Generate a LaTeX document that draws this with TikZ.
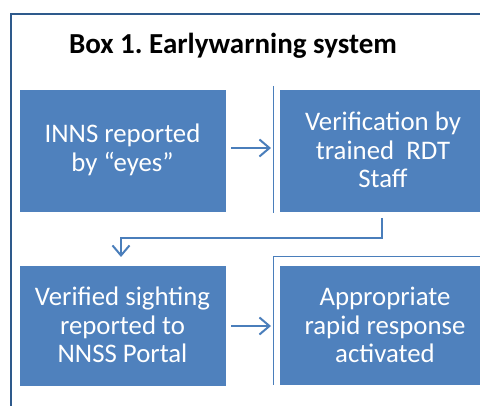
\documentclass[tikz,border=0pt]{standalone}
\usepackage{fontspec}
\setmainfont{Carlito}
\usetikzlibrary{arrows.meta}
\definecolor{boxblue}{HTML}{4F81BD}
\definecolor{arrblue}{HTML}{4A7EBB}
\definecolor{frameblue}{HTML}{2E5A8C}
\tikzset{
  flowbox/.style={fill=boxblue, draw=none, minimum width=206pt, minimum height=122pt, inner sep=0pt},
  boxtext/.style={text=white, align=center, font=\fontsize{26.8}{28.5}\selectfont, inner sep=0pt},
  flowarrow/.style={draw=arrblue, line width=2pt, -{Straight Barb[length=10pt,width=17pt,line width=2pt]}},
  edgeline/.style={draw=arrblue, line width=1pt}
}
\frenchspacing
\begin{document}
\begin{tikzpicture}[x=1pt,y=-1pt]
\useasboundingbox (0,0) rectangle (480,406);
\clip (0,0) rectangle (480,406);
% outer frame
\draw[frameblue, line width=2pt] (11,420) -- (11,14) -- (500,14);
% title
\node[font=\fontsize{29}{34}\selectfont\bfseries, anchor=center] (title) at (233,46) {Box 1. Earlywarning system};
% boxes
\node[flowbox] (b1) at (122.5,151) {};
\node[flowbox] (b2) at (383,151) {};
\node[flowbox, minimum height=120pt] (b3) at (122.5,326) {};
\node[flowbox, minimum height=119pt] (b4) at (383,325.5) {};
% extra outlines
\draw[edgeline] (273,86) -- (273,213);
\draw[edgeline] (273,385) -- (273,257) -- (500,257);
% texts
\node[boxtext] (t1) at (122.5,150) {INNS reported\\by “eyes”};
\node[boxtext] (t2) at (383,150) {Verification by\\trained\ \ RDT\\Staff};
\node[boxtext] (t3) at (122.5,325) {Verified sighting\\reported to\\NNSS Portal};
\node[boxtext] (t4) at (385,325) {Appropriate\\rapid response\\activated};
% connectors
\coordinate (a1s) at (231,148);
\coordinate (a1e) at (271,148);
\draw[flowarrow] (a1s) -- (a1e);
\coordinate (a2s) at (231,326);
\coordinate (a2e) at (271,326);
\draw[flowarrow] (a2s) -- (a2e);
\coordinate (e1) at (382,218);
\coordinate (e2) at (121,257);
\draw[flowarrow] (e1) -- (382,238) -- (121,238) -- (e2);
\end{tikzpicture}
\end{document}
